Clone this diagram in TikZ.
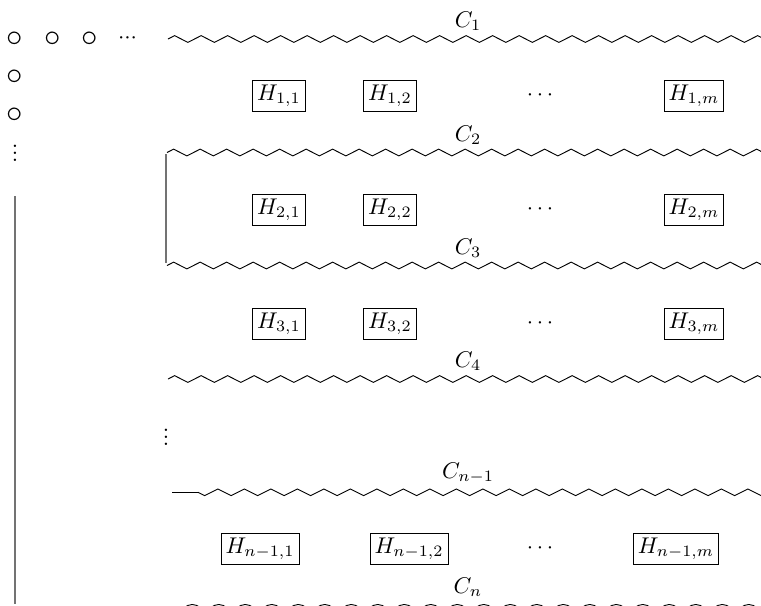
\documentclass[tikz,border=0pt]{standalone}
\usetikzlibrary{decorations.pathmorphing}
\newcommand{\myvdots}{\vbox{\baselineskip=3.1pt\lineskiplimit=-100pt\hbox{.}\hbox{.}\hbox{.}}}
\begin{document}
\begin{tikzpicture}[x=0.44pt,y=-0.44pt,
  hbox/.style={draw, inner sep=2pt, line width=0.4pt},
  plain/.style={inner sep=0pt},
  circ/.style={inner sep=0pt, font=\fontsize{13.5}{16}\selectfont},
  zz/.style={decorate, decoration={zigzag, segment length=11.66pt, amplitude=1.47pt}},
  zzm/.style={decorate, decoration={zigzag, segment length=11.66pt, amplitude=1.47pt, mirror}},
  coilline/.style={decorate, decoration={coil, segment length=11.66pt, amplitude=1.47pt}},
  sideline/.style={draw=black!55, line width=0.8pt},
  lbl/.style={inner sep=0pt}]
\useasboundingbox (0,0) rectangle (761,605);

% top-left symbols
\node[circ] (o1) at (14.5,39) {$\circ$};
\node[circ] (o2) at (52.3,39) {$\circ$};
\node[circ] (o3) at (90,39) {$\circ$};
\node[plain] (od) at (127.5,38.5) {${\cdotp}{\cdotp}{\cdotp}$};
\node[circ] (o4) at (14.5,77) {$\circ$};
\node[circ] (o5) at (14.5,115) {$\circ$};
\node[plain] (ov) at (15,153) {\myvdots};
\node[plain] (mv) at (166,437) {\myvdots};

% side lines
\coordinate (l1t) at (15,196);
\coordinate (l1b) at (15,604);
\draw[sideline] (l1t) -- (l1b);
\coordinate (l2t) at (166,154);
\coordinate (l2b) at (166,263);
\draw[sideline] (l2t) -- (l2b);

% C lines
\coordinate (c1s) at (168,39);   \coordinate (c1e) at (775,39);
\coordinate (c2s) at (167,152.5); \coordinate (c2e) at (775,152.5);
\coordinate (c3s) at (167,265.5); \coordinate (c3e) at (775,265.5);
\coordinate (c4s) at (168,379);  \coordinate (c4e) at (775,379);
\coordinate (c5s) at (172,492.3); \coordinate (c5m) at (198,492.3); \coordinate (c5e) at (775,492.3);
\coordinate (c6s) at (184,607.8); \coordinate (c6e) at (775,607.8);
\draw[zz] (c1s) -- (c1e);
\draw[zz] (c2s) -- (c2e);
\draw[zz] (c3s) -- (c3e);
\draw[zz] (c4s) -- (c4e);
\draw (c5s) -- (c5m);
\draw[zzm] (c5m) -- (c5e);
\draw[coilline] (c6s) -- (c6e);

\node[lbl] (C1) at (468,21) {$C_1$};
\node[lbl] (C2) at (468,135) {$C_2$};
\node[lbl] (C3) at (468,248) {$C_3$};
\node[lbl] (C4) at (468,361) {$C_4$};
\node[lbl] (C5) at (468,473) {$C_{n-1}$};
\node[lbl] (C6) at (468,587) {$C_n$};

% H rows
\node[hbox] (h11) at (279,96) {$H_{1,1}$};
\node[hbox] (h12) at (390,96) {$H_{1,2}$};
\node[plain] (h1d) at (540,95) {$\cdots$};
\node[hbox] (h1m) at (694,96) {$H_{1,m}$};

\node[hbox] (h21) at (279,210) {$H_{2,1}$};
\node[hbox] (h22) at (390,210) {$H_{2,2}$};
\node[plain] (h2d) at (540,209) {$\cdots$};
\node[hbox] (h2m) at (694,210) {$H_{2,m}$};

\node[hbox] (h31) at (279,324) {$H_{3,1}$};
\node[hbox] (h32) at (390,324) {$H_{3,2}$};
\node[plain] (h3d) at (540,323) {$\cdots$};
\node[hbox] (h3m) at (694,324) {$H_{3,m}$};

\node[hbox] (hn1) at (260,549) {$H_{n-1,1}$};
\node[hbox] (hn2) at (409,549) {$H_{n-1,2}$};
\node[plain] (hnd) at (540,548) {$\cdots$};
\node[hbox] (hnm) at (676,549) {$H_{n-1,m}$};
\end{tikzpicture}
\end{document}
